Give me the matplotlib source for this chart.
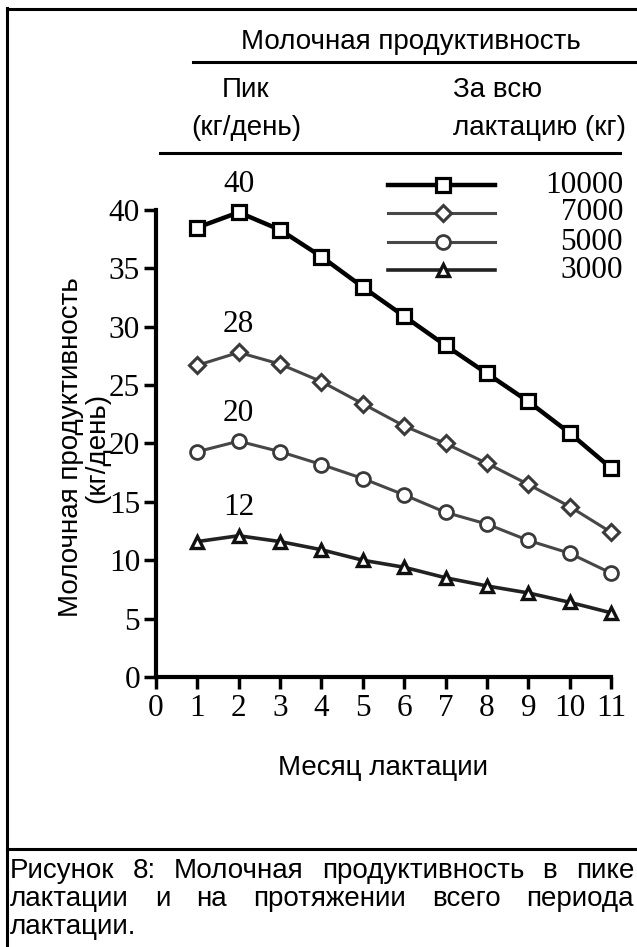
import matplotlib
matplotlib.use("Agg")
import matplotlib.pyplot as plt
from matplotlib.lines import Line2D

months = [1, 2, 3, 4, 5, 6, 7, 8, 9, 10, 11]
y10000 = [38.5, 39.8, 38.3, 36.0, 33.4, 30.9, 28.4, 26.0, 23.6, 20.9, 17.9]
y7000 = [26.7, 27.8, 26.8, 25.3, 23.4, 21.5, 20.0, 18.3, 16.5, 14.6, 12.4]
y5000 = [19.3, 20.2, 19.3, 18.2, 17.0, 15.6, 14.1, 13.1, 11.7, 10.6, 8.9]
y3000 = [11.6, 12.1, 11.6, 10.9, 10.0, 9.4, 8.5, 7.8, 7.2, 6.4, 5.5]
series_labels = ["10000", "7000", "5000", "3000"]
peak_labels = ["40", "28", "20", "12"]
x_ticks = list(range(0, 12))
y_ticks = [0, 5, 10, 15, 20, 25, 30, 35, 40]

header_title = "Молочная продуктивность"
header_left_1 = "Пик"
header_left_2 = "(кг/день)"
header_right_1 = "За всю"
header_right_2 = "лактацию (кг)"
ylabel_1 = "Молочная продуктивность"
ylabel_2 = "(кг/день)"
xlabel = "Месяц лактации"
caption_lines = ["Рисунок 8:  Молочная продуктивность в пике",
                 "лактации и на протяжении всего периода",
                 "лактации."]

W, H = 637, 947
DPI = 100
fig = plt.figure(figsize=(W / DPI, H / DPI), dpi=DPI)
SERIF = "Liberation Serif"
SANS = "Liberation Sans"
FS_SERIF = 22.5
FS_SANS = 20

def fx(px):
    return px / W

def fy(py):
    return 1 - py / H

ax = fig.add_axes([fx(156), fy(677), fx(611) - fx(156), fy(210) - fy(677)])
ax.set_xlim(0, 11)
ax.set_ylim(0, 40)

styles = [
    dict(color="black", lw=3.2, marker="s", ms=10, mfc="white", mec="black", mew=2.3),
    dict(color="#474747", lw=2.2, marker="D", ms=8, mfc="white", mec="#3a3a3a", mew=2.2),
    dict(color="#474747", lw=2.2, marker="o", ms=10, mfc="white", mec="#3a3a3a", mew=2.0),
    dict(color="#222222", lw=2.6, marker="^", ms=9, mfc="white", mec="#111111", mew=2.4),
]
data = [y10000, y7000, y5000, y3000]
for ys, st in zip(data, styles):
    ax.plot(months, ys, clip_on=False, zorder=3, **st)

# peak annotations
for ys, lab in zip(data, peak_labels):
    i = ys.index(max(ys))
    ax.annotate(lab, (months[i], ys[i]), xytext=(0, 20), textcoords="offset points",
                ha="center", va="center", fontsize=FS_SERIF, family=SERIF)

for s in ["top", "right"]:
    ax.spines[s].set_visible(False)
for s in ["left", "bottom"]:
    ax.spines[s].set_linewidth(3.0)
ax.set_xticks(x_ticks)
ax.set_yticks(y_ticks)
ax.tick_params(direction="out", length=8.5, width=2.5, pad=3)
ax.tick_params(axis="x", length=8.5, pad=4)
for lab in ax.get_xticklabels() + ax.get_yticklabels():
    lab.set_fontfamily(SERIF)
    lab.set_fontsize(FS_SERIF)

# axis labels
fig.text(fx(71), fy(447), ylabel_1, rotation=90, ha="center", va="center",
         fontsize=FS_SANS, family=SANS)
fig.text(fx(97), fy(448), ylabel_2, rotation=90, ha="center", va="center",
         fontsize=FS_SANS, family=SANS)
fig.text(fx(383), fy(768), xlabel, ha="center", va="center", fontsize=FS_SANS, family=SANS)

# legend (manual)
leg_y = [185, 213, 242, 270]
for st, lab, ly in zip(styles, series_labels, leg_y):
    fig.add_artist(Line2D([fx(388), fx(495)], [fy(ly), fy(ly)], color=st["color"], lw=st["lw"]))
    fig.add_artist(Line2D([fx(443)], [fy(ly)], marker=st["marker"], ms=st["ms"], mfc="white",
                          mec=st["mec"], mew=st["mew"], linestyle="none"))
    fig.text(fx(623), fy(ly), lab, ha="right", va="center", fontsize=FS_SERIF, family=SERIF)

# header
fig.text(fx(411), fy(42), header_title, ha="center", va="center", fontsize=FS_SANS, family=SANS)
fig.add_artist(Line2D([fx(193), fx(637)], [fy(62), fy(62)], color="black", lw=2.2))
fig.text(fx(246), fy(90), header_left_1, ha="center", va="center", fontsize=FS_SANS, family=SANS)
fig.text(fx(246), fy(128), header_left_2, ha="center", va="center", fontsize=FS_SANS, family=SANS)
fig.text(fx(453), fy(90), header_right_1, ha="left", va="center", fontsize=FS_SANS, family=SANS)
fig.text(fx(626), fy(128), header_right_2, ha="right", va="center", fontsize=FS_SANS, family=SANS)
fig.add_artist(Line2D([fx(160), fx(620)], [fy(153), fy(153)], color="black", lw=2.2))

# frame
fig.add_artist(Line2D([fx(7), fx(637)], [fy(9), fy(9)], color="black", lw=2.2))
fig.add_artist(Line2D([fx(7), fx(7)], [fy(8), fy(947)], color="black", lw=2.2))
fig.add_artist(Line2D([fx(7), fx(637)], [fy(849), fy(849)], color="black", lw=2.2))

# caption, justified
fig.canvas.draw()
renderer = fig.canvas.get_renderer()
cap_y = [871, 899, 927]
left_px, right_px = 10, 634
for k, (line, cy) in enumerate(zip(caption_lines, cap_y)):
    if k == len(caption_lines) - 1:
        fig.text(fx(left_px), fy(cy), line, ha="left", va="center", fontsize=FS_SANS, family=SANS)
        continue
    words = line.split()
    texts = [fig.text(0, fy(cy), w, ha="left", va="center", fontsize=FS_SANS, family=SANS)
             for w in words]
    widths = [t.get_window_extent(renderer).width for t in texts]
    gap = (right_px - left_px - sum(widths)) / (len(words) - 1)
    xpos = left_px
    for t, wd in zip(texts, widths):
        t.set_x(fx(xpos))
        xpos += wd + gap

fig.savefig("out.png", dpi=DPI)
